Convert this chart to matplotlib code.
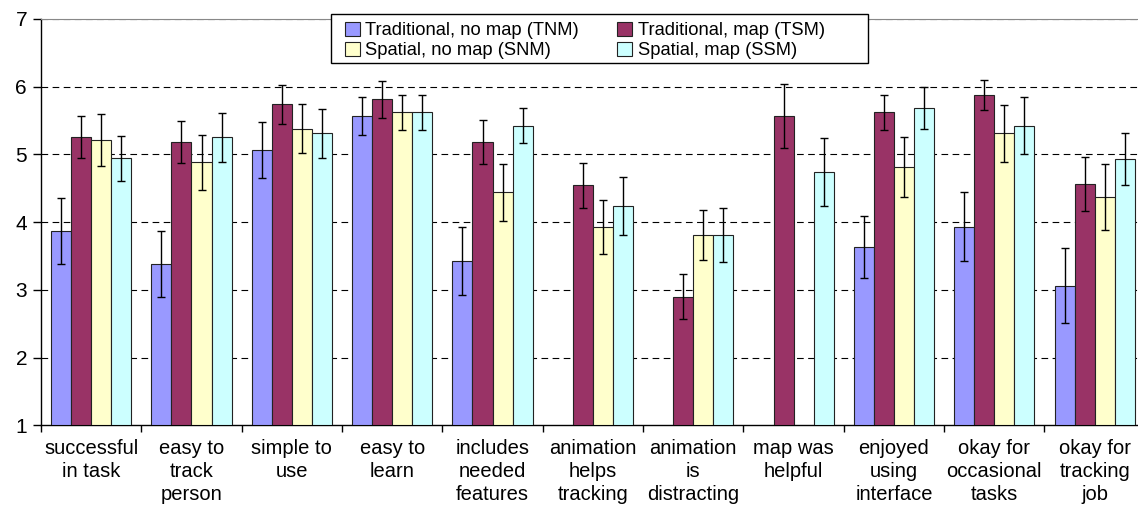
import numpy as np
import matplotlib
matplotlib.use("Agg")
import matplotlib.pyplot as plt
from matplotlib.patches import Rectangle

plt.rcParams["font.family"] = ["Liberation Sans", "DejaVu Sans"]

categories = ["successful\nin task", "easy to\ntrack\nperson", "simple to\nuse", "easy to\nlearn",
              "includes\nneeded\nfeatures", "animation\nhelps\ntracking", "animation\nis\ndistracting",
              "map was\nhelpful", "enjoyed\nusing\ninterface", "okay for\noccasional\ntasks",
              "okay for\ntracking\njob"]

nan = np.nan
# mean ratings per condition
tnm = [3.87, 3.38, 5.06, 5.57, 3.43, nan, nan, nan, 3.63, 3.93, 3.06]
tsm = [5.25, 5.18, 5.74, 5.81, 5.18, 4.54, 2.90, 5.57, 5.62, 5.87, 4.56]
snm = [5.21, 4.88, 5.38, 5.62, 4.44, 3.93, 3.81, nan, 4.81, 5.31, 4.37]
ssm = [4.94, 5.25, 5.31, 5.62, 5.42, 4.24, 3.81, 4.74, 5.69, 5.42, 4.93]

# error bar half-widths
tnm_err = [0.49, 0.49, 0.41, 0.28, 0.50, nan, nan, nan, 0.46, 0.51, 0.55]
tsm_err = [0.31, 0.31, 0.29, 0.27, 0.32, 0.33, 0.33, 0.47, 0.26, 0.22, 0.40]
snm_err = [0.39, 0.41, 0.36, 0.26, 0.42, 0.40, 0.37, nan, 0.44, 0.42, 0.48]
ssm_err = [0.33, 0.36, 0.36, 0.26, 0.26, 0.43, 0.40, 0.50, 0.31, 0.42, 0.39]

names = ["Traditional, no map (TNM)", "Traditional, map (TSM)",
         "Spatial, no map (SNM)", "Spatial, map (SSM)"]
colors = ["#9999FF", "#993366", "#FFFFCC", "#CCFFFF"]

fig = plt.figure(figsize=(11.38, 5.12), dpi=100)
ax = fig.add_axes([0.036, 0.1693, 0.970, 0.794])

x = np.arange(len(categories))
w = 0.2
series = [(tnm, tnm_err), (tsm, tsm_err), (snm, snm_err), (ssm, ssm_err)]
handles = []
for i, (vals, errs) in enumerate(series):
    vals = np.array(vals)
    pos = x + (i - 1.5) * w
    ok = ~np.isnan(vals)
    b = ax.bar(pos[ok], vals[ok] - 1, bottom=1, width=w, color=colors[i],
               edgecolor="#222222", linewidth=0.8, zorder=3, label=names[i])
    handles.append(b)
    ax.errorbar(pos[ok], vals[ok], yerr=np.array(errs)[ok], fmt="none",
                ecolor="black", elinewidth=1, capsize=3, capthick=1, zorder=4)

ax.set_ylim(1, 7)
ax.set_xlim(-0.5, len(categories) - 0.5)
ax.set_yticks(range(1, 8))
for yv in range(2, 8):
    ax.axhline(yv, color="black", linestyle=(0, (6, 4)), linewidth=0.8, zorder=1)

ax.set_xticks(np.arange(-0.5, len(categories), 1.0))
ax.set_xticklabels([])
ax.set_xticks(x, minor=True)
ax.set_xticklabels(categories, minor=True, fontsize=14.5, linespacing=1.25)
ax.tick_params(axis="x", which="major", length=5, width=1, direction="out")
ax.tick_params(axis="x", which="minor", length=0, pad=10)
ax.tick_params(axis="y", length=6, width=1, labelsize=15, pad=4)

ax.spines["right"].set_visible(False)
ax.spines["top"].set_color("#888888")
ax.spines["left"].set_linewidth(1)
ax.spines["bottom"].set_linewidth(1)

# legend box, drawn separately so it can be wider than its entries
box = Rectangle((331 / 1138, 1 - 63 / 512), 537 / 1138, 49 / 512, transform=fig.transFigure,
                facecolor="white", edgecolor="black", linewidth=1, zorder=5)
fig.add_artist(box)

# legend filled column by column, so order it TNM, SNM | TSM, SSM
order = [0, 2, 1, 3]
leg = fig.legend(handles=[handles[k] for k in order], ncol=2, loc="upper left",
                 bbox_to_anchor=(345 / 1138, 1 - 22 / 512), fontsize=13.2, frameon=False,
                 handlelength=0.8, handleheight=0.8, handletextpad=0.3,
                 labelspacing=0.12, borderpad=0, columnspacing=2.1, borderaxespad=0)
leg.set_zorder(6)

fig.savefig("out.png", dpi=100)
